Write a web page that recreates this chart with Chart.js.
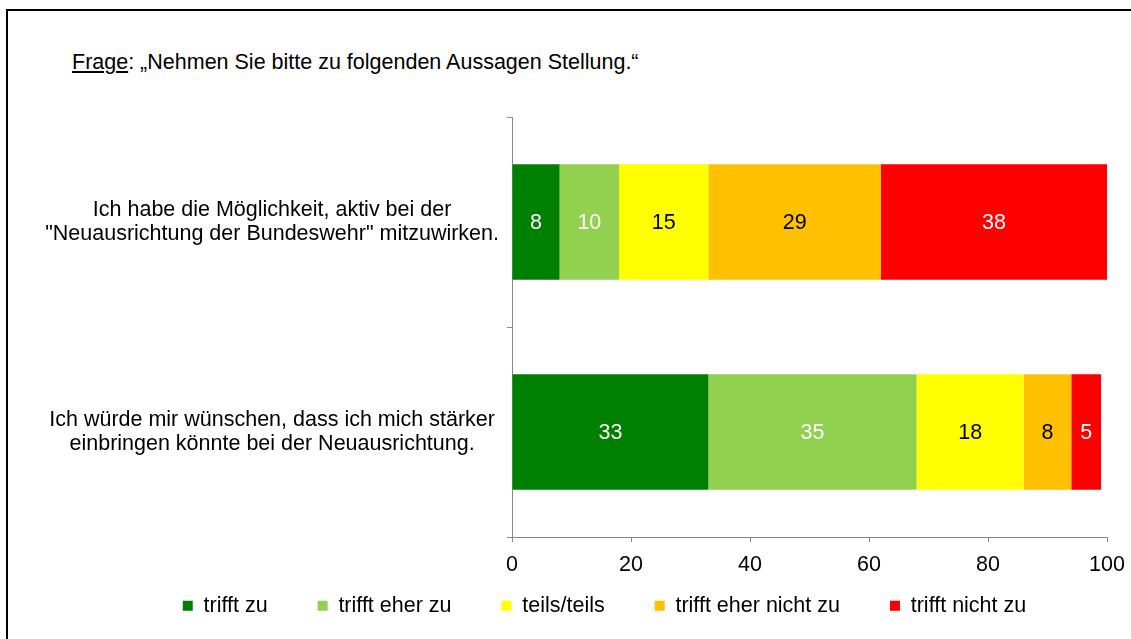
<!DOCTYPE html>
<html>
<head>
<meta charset="utf-8">
<script src="https://cdn.jsdelivr.net/npm/chart.js@4.4.1/dist/chart.umd.min.js"></script>
<style>
  body { margin: 0; background: #fff; overflow: hidden; }
  #frame { position: absolute; left: 6px; top: 9px; width: 1200px; height: 700px;
           border-top: 2px solid #000; border-left: 2px solid #000; }
  #title { position: absolute; left: 72px; top: 50px; font: 21.5px 'Liberation Sans', Arial, sans-serif;
           color: #000; white-space: nowrap; }
  #title u { text-decoration: underline; }
  #chart { position: absolute; left: 0; top: 0; }
</style>
</head>
<body>
<div id="frame"></div>
<div id="title"><u>Frage</u>: „Nehmen Sie bitte zu folgenden Aussagen Stellung.“</div>
<canvas id="chart" width="1131" height="639"></canvas>
<script>
// categories (two statements, each split into two lines)
const categories = [
    ['Ich habe die Möglichkeit, aktiv bei der', '"Neuausrichtung der Bundeswehr" mitzuwirken.'],
    ['Ich würde mir wünschen, dass ich mich stärker', 'einbringen könnte bei der Neuausrichtung.']
];

// answer series, percent
const seriesNames = ['trifft zu', 'trifft eher zu', 'teils/teils', 'trifft eher nicht zu', 'trifft nicht zu'];
const trifftZu = [8, 33];
const trifftEherZu = [10, 35];
const teilsTeils = [15, 18];
const trifftEherNichtZu = [29, 8];
const trifftNichtZu = [38, 5];

const xTicks = [0, 20, 40, 60, 80, 100];

const colors = ['#008000', '#92D050', '#FFFF00', '#FFC000', '#FF0000'];
const labelColors = ['#fff', '#fff', '#000', '#000', '#fff'];

const FONT = "'Liberation Sans', Arial, sans-serif";
const FONT_SIZE = 21.5;
const allValues = [trifftZu, trifftEherZu, teilsTeils, trifftEherNichtZu, trifftNichtZu];

//draws the number inside each bar segment
const valueLabels = {
    id: 'valueLabels',
    afterDatasetsDraw(chart) {
        const ctx = chart.ctx;
        ctx.save();
        ctx.font = FONT_SIZE + 'px ' + FONT;
        ctx.textAlign = 'center';
        ctx.textBaseline = 'middle';
        chart.data.datasets.forEach((ds, i) => {
            const meta = chart.getDatasetMeta(i);
            meta.data.forEach((bar, j) => {
                const p = bar.getProps(['x', 'y', 'base'], true);
                ctx.fillStyle = labelColors[i];
                ctx.fillText(ds.data[j], (p.x + p.base) / 2, p.y + 1);
            });
        });
        ctx.restore();
    }
};

//keeps the legend small in the layout and moves it where the original has it
const legendPlace = {
    id: 'legendPlace',
    beforeLayout(chart) {
        const legend = chart.legend;
        if (!legend._patched) {
            const fit = Object.getPrototypeOf(legend).fit;
            legend.fit = function () {
                fit.call(this);
                this.height = 40;
            };
            legend._patched = true;
        }
    },
    afterLayout(chart) {
        chart.legend.left = 102;
        chart.legend.top = 545;
    }
};

const config = {
    type: 'bar',
    data: {
        labels: categories,
        datasets: seriesNames.map((name, i) => ({
            label: name,
            data: allValues[i],
            backgroundColor: colors[i],
            borderWidth: 0,
            categoryPercentage: 0.55,
            barPercentage: 1
        }))
    },
    options: {
        indexAxis: 'y',
        responsive: false,
        animation: false,
        layout: { padding: { left: 0, top: 117, right: 24, bottom: 22 } },
        scales: {
            x: {
                stacked: true,
                min: 0,
                max: 100,
                afterBuildTicks: (scale) => { scale.ticks = xTicks.map(v => ({ value: v })); },
                afterFit: (scale) => {
                    scale.height = 40;
                    scale.paddingLeft = 0;
                    scale.paddingRight = 0;
                },
                grid: { drawOnChartArea: false, drawTicks: true, tickLength: 5, color: '#888' },
                border: { display: true, color: '#888', width: 1 },
                ticks: { color: '#000', padding: 10, font: { family: FONT, size: FONT_SIZE } }
            },
            y: {
                stacked: true,
                afterFit: (scale) => { scale.width = 512; },
                grid: { drawOnChartArea: false, drawTicks: true, tickLength: 5, color: '#888' },
                border: { display: true, color: '#888', width: 1 },
                ticks: { color: '#000', padding: 8, crossAlign: 'center',
                         font: { family: FONT, size: FONT_SIZE, lineHeight: 1.12 } }
            }
        },
        plugins: {
            legend: {
                position: 'bottom',
                labels: { boxWidth: 10, boxHeight: 10, padding: 50, color: '#000',
                          font: { family: FONT, size: FONT_SIZE } }
            },
            tooltip: { enabled: false }
        }
    },
    plugins: [valueLabels, legendPlace]
};

const myChart = new Chart(document.getElementById('chart'), config);
</script>
</body>
</html>
